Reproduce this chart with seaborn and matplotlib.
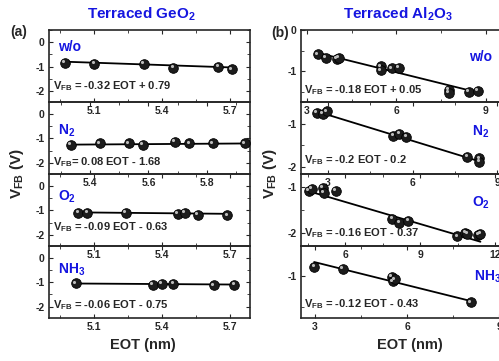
import matplotlib
matplotlib.use("Agg")
import matplotlib.pyplot as plt
from matplotlib.ticker import MultipleLocator, AutoMinorLocator
from matplotlib.transforms import offset_copy
import numpy as np
import pandas as pd
import seaborn as sns

# ---- data ----
ge_wo_eot = [4.97, 5.10, 5.32, 5.45, 5.65, 5.71]
ge_wo_vfb = [-0.85, -0.90, -0.90, -1.04, -1.00, -1.12]
ge_n2_eot = [5.335, 5.434, 5.534, 5.58, 5.69, 5.74, 5.82, 5.93]
ge_n2_vfb = [-1.25, -1.20, -1.20, -1.25, -1.15, -1.20, -1.20, -1.20]
ge_o2_eot = [5.03, 5.07, 5.24, 5.47, 5.50, 5.56, 5.69]
ge_o2_vfb = [-1.10, -1.10, -1.10, -1.15, -1.10, -1.17, -1.20]
ge_nh3_eot = [5.02, 5.36, 5.40, 5.45, 5.63, 5.72]
ge_nh3_vfb = [-1.05, -1.10, -1.07, -1.07, -1.12, -1.10]

al_wo_eot = [3.37, 3.64, 4.01, 4.07, 5.48, 5.48, 5.85, 6.08, 7.76, 7.76, 8.43, 8.73]
al_wo_vfb = [-0.59, -0.68, -0.70, -0.68, -0.88, -0.98, -0.93, -0.92, -1.45, -1.53, -1.50, -1.48]
al_n2_eot = [2.61, 2.82, 2.96, 5.31, 5.52, 5.77, 7.93, 8.36, 8.36]
al_n2_vfb = [-0.75, -0.77, -0.72, -1.28, -1.23, -1.30, -1.77, -1.80, -1.88]
al_o2_eot = [4.56, 4.68, 5.12, 5.16, 5.64, 7.88, 8.16, 8.52, 10.48, 10.80, 10.88, 11.32, 11.40]
al_o2_vfb = [-1.09, -1.04, -1.02, -1.13, -1.09, -1.70, -1.79, -1.74, -2.08, -2.00, -2.02, -2.04, -2.02]
al_nh3_eot = [2.97, 3.91, 5.51, 5.54, 5.61, 8.09]
al_nh3_vfb = [-0.86, -0.89, -1.02, -1.09, -1.06, -1.42]

# fit coefficients (slope, intercept) as printed
ge_fits = [(-0.32, 0.79), (0.08, -1.68), (-0.09, -0.63), (-0.06, -0.75)]
al_fits = [(-0.18, 0.05), (-0.2, -0.2), (-0.16, -0.37), (-0.12, -0.43)]
ge_eq = [r"V$_{\rm FB}$ = -0.32 EOT + 0.79", r"V$_{\rm FB}$= 0.08 EOT - 1.68",
         r"V$_{\rm FB}$ = -0.09 EOT - 0.63", r"V$_{\rm FB}$ = -0.06 EOT - 0.75"]
al_eq = [r"V$_{\rm FB}$ = -0.18 EOT + 0.05", r"V$_{\rm FB}$ = -0.2 EOT - 0.2",
         r"V$_{\rm FB}$ = -0.16 EOT - 0.37", r"V$_{\rm FB}$ = -0.12 EOT - 0.43"]
conditions = ["w/o", r"N$_2$", r"O$_2$", r"NH$_3$"]

sns.set_style("ticks")
plt.rcParams["font.family"] = ["Liberation Sans", "DejaVu Sans"]
plt.rcParams["font.weight"] = "bold"
plt.rcParams["mathtext.fontset"] = "custom"
plt.rcParams["mathtext.rm"] = "Liberation Sans:bold"
plt.rcParams["mathtext.bf"] = "Liberation Sans:bold"
plt.rcParams["mathtext.it"] = "Liberation Sans:bold"
plt.rcParams["axes.unicode_minus"] = False

fig = plt.figure(figsize=(4.99, 3.61), dpi=100)
W, H = 499.0, 361.0
blue = "#1515e0"


def panel(col_x0, col_x1, row, eot, vfb, fit, xlim, ylim, xstep):
    top = 30 + row * 71.9
    ax = fig.add_axes([col_x0 / W, 1 - (top + 71.9) / H, (col_x1 - col_x0) / W, 71.9 / H])
    ax.patch.set_alpha(0)
    df = pd.DataFrame({"EOT": eot, "VFB": vfb})
    xs = np.array([min(eot), max(eot)])
    sns.lineplot(x=xs, y=fit[0] * xs + fit[1], ax=ax, color="black", lw=1.3, zorder=2)
    sns.scatterplot(data=df, x="EOT", y="VFB", ax=ax, s=48, color="#1c1c1c",
                    edgecolor="black", linewidth=0.6, zorder=3)
    hl = offset_copy(ax.transData, fig=fig, x=-1.2, y=1.2, units="points")
    ax.scatter(df["EOT"], df["VFB"], s=5, color="#bdbdbd", linewidth=0, transform=hl, zorder=4)
    ax.set_xlim(*xlim)
    ax.set_ylim(*ylim)
    ax.xaxis.set_major_locator(MultipleLocator(xstep))
    ax.xaxis.set_minor_locator(AutoMinorLocator(2))
    ax.yaxis.set_major_locator(MultipleLocator(1))
    ax.yaxis.set_minor_locator(AutoMinorLocator(2))
    ax.tick_params(which="both", direction="in", top=True, right=True, labelsize=7.5, pad=3)
    ax.tick_params(which="major", length=3)
    ax.tick_params(which="minor", length=2)
    ax.set_xlabel("")
    ax.set_ylabel("")
    for s in ax.spines.values():
        s.set_linewidth(1.2)
    return ax


ge_xlims = [(4.9, 5.79), (5.26, 5.947), (4.9, 5.79), (4.9, 5.79)]
ge_steps = [0.3, 0.2, 0.3, 0.3]
ge_eot = [ge_wo_eot, ge_n2_eot, ge_o2_eot, ge_nh3_eot]
ge_vfb = [ge_wo_vfb, ge_n2_vfb, ge_o2_vfb, ge_nh3_vfb]
ge_eq_y = [0.22, 0.16, 0.26, 0.17]
ge_lab_y = [0.76, 0.60, 0.68, 0.66]

al_xlims = [(2.8, 9.57), (2.04, 9.2), (4.24, 12.3), (2.54, 9.13)]
al_ylims = [(-1.75, 0.001), (-2.16, -0.5), (-2.28, -0.72), (-1.66, -0.53)]
al_eot = [al_wo_eot, al_n2_eot, al_o2_eot, al_nh3_eot]
al_vfb = [al_wo_vfb, al_n2_vfb, al_o2_vfb, al_nh3_vfb]
al_eq_y = [0.16, 0.19, 0.17, 0.19]
al_lab_y = [0.62, 0.58, 0.60, 0.57]
al_lab_x = [0.945, 0.93, 0.935, 0.99]

for i in range(4):
    ax = panel(49, 250, i, ge_eot[i], ge_vfb[i], ge_fits[i], ge_xlims[i], (-2.45, 0.5), ge_steps[i])
    ax.text(0.02, ge_eq_y[i], ge_eq[i], transform=ax.transAxes, fontsize=8,
            va="center", ha="left", fontweight="bold")
    ax.text(0.045, ge_lab_y[i], conditions[i], transform=ax.transAxes, fontsize=10,
            va="center", ha="left", color=blue, fontweight="bold")

for i in range(4):
    ax = panel(301, 503, i, al_eot[i], al_vfb[i], al_fits[i], al_xlims[i], al_ylims[i], 3)
    ax.text(0.015, al_eq_y[i], al_eq[i], transform=ax.transAxes, fontsize=8,
            va="center", ha="left", fontweight="bold")
    ax.text(al_lab_x[i], al_lab_y[i], conditions[i], transform=ax.transAxes, fontsize=10,
            va="center", ha="right", color=blue, fontweight="bold")

fig.text(141 / W, 1 - 14 / H, r"Terraced GeO$_2$", color=blue, fontsize=11,
         ha="center", va="center", fontweight="bold")
fig.text(398 / W, 1 - 14 / H, r"Terraced Al$_2$O$_3$", color=blue, fontsize=11,
         ha="center", va="center", fontweight="bold")
fig.text(19 / W, 1 - 32 / H, "(a)", fontsize=10, ha="center", va="center", fontweight="bold")
fig.text(280 / W, 1 - 33 / H, "(b)", fontsize=10, ha="center", va="center", fontweight="bold")
fig.text(17 / W, 1 - 174 / H, r"V$_{\rm FB}$ (V)", fontsize=11, rotation=90,
         ha="center", va="center", fontweight="bold")
fig.text(270 / W, 1 - 174 / H, r"V$_{\rm FB}$ (V)", fontsize=11, rotation=90,
         ha="center", va="center", fontweight="bold")
fig.text(143 / W, 1 - 345 / H, "EOT (nm)", fontsize=10.5, ha="center", va="center",
         fontweight="bold")
fig.text(410 / W, 1 - 345 / H, "EOT (nm)", fontsize=10.5, ha="center", va="center",
         fontweight="bold")

fig.savefig("out.png", dpi=100)
